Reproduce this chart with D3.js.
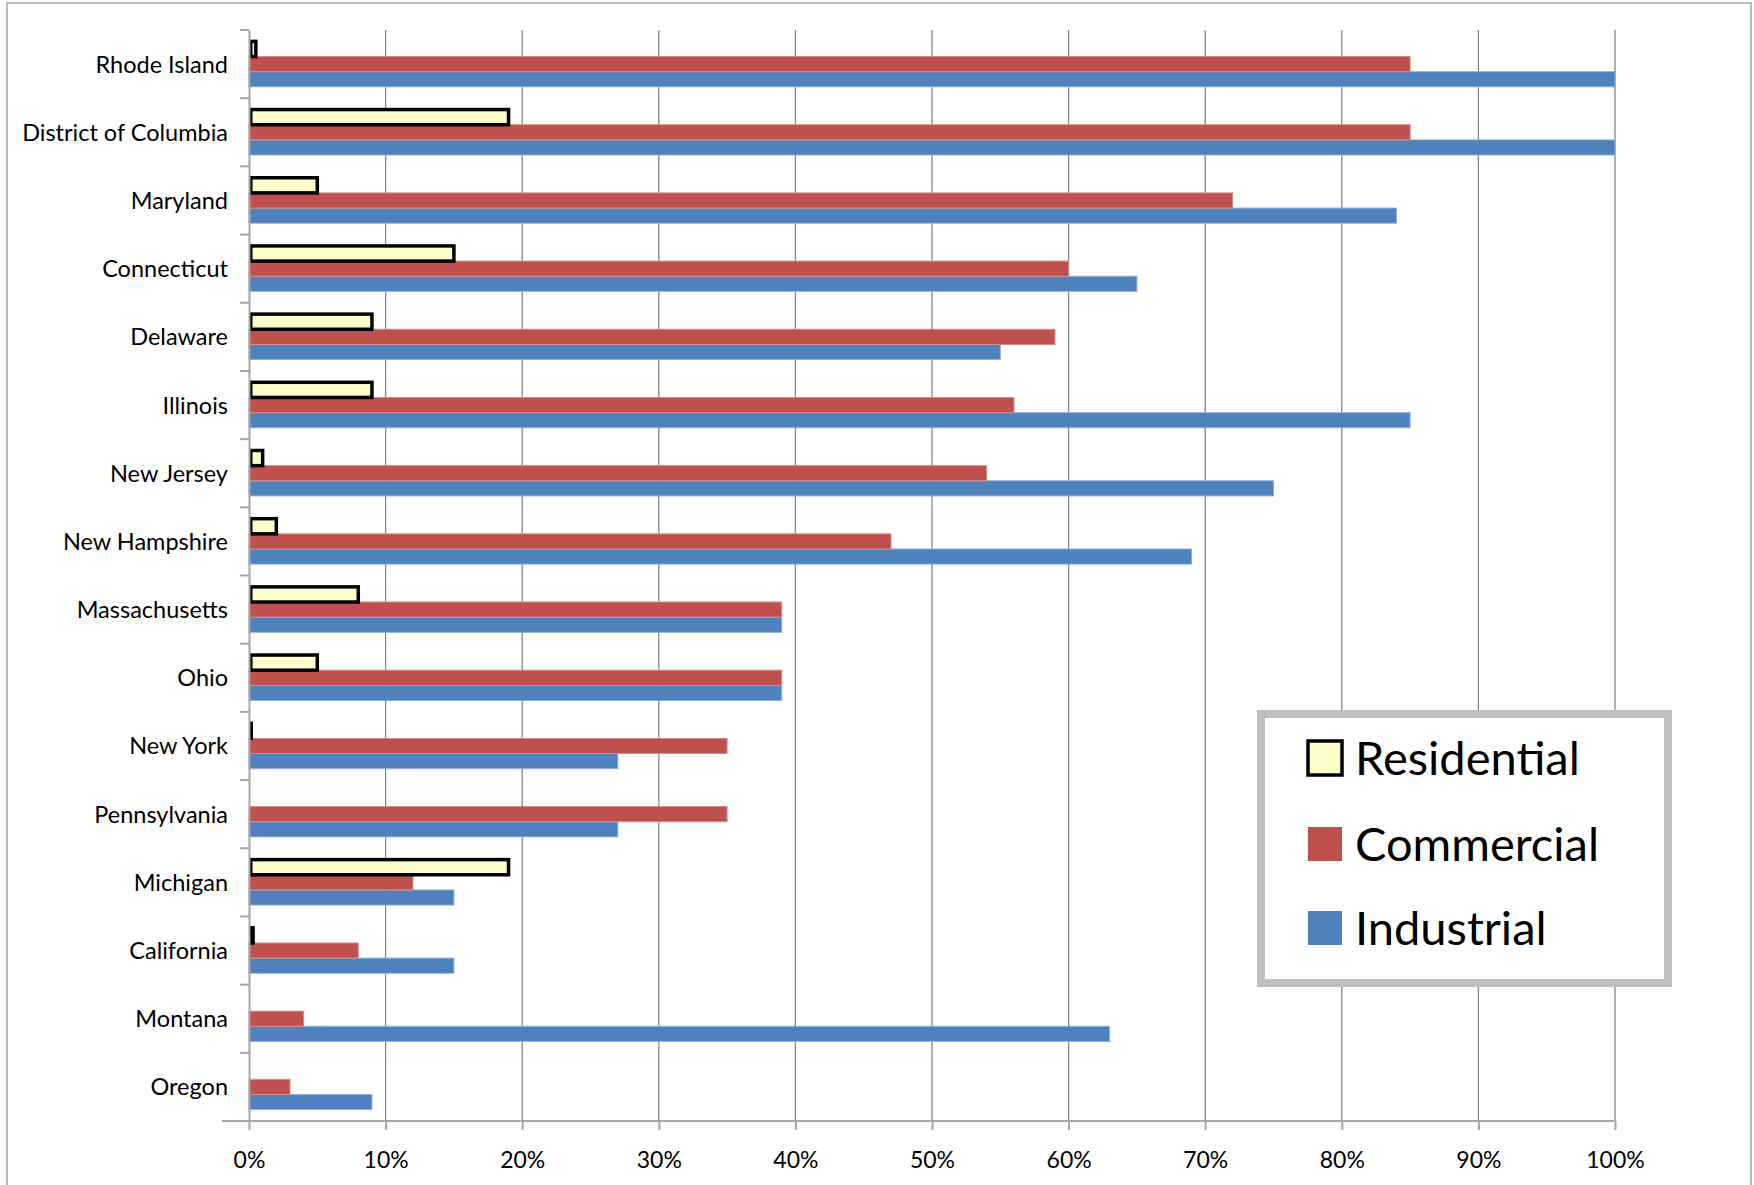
<!DOCTYPE html>
<html>
<head>
<meta charset="utf-8">
<script src="https://cdn.jsdelivr.net/npm/d3@7"></script>
<style>
  html, body { margin: 0; padding: 0; background: #fff; }
  svg { display: block; }
  text { font-family: Lato, "Open Sans", sans-serif; fill: #000; }
</style>
</head>
<body>
<svg id="chart" width="1754" height="1185"></svg>
<script>
// States, listed top to bottom
const states = [
  "Rhode Island", "District of Columbia", "Maryland", "Connecticut",
  "Delaware", "Illinois", "New Jersey", "New Hampshire", "Massachusetts",
  "Ohio", "New York", "Pennsylvania", "Michigan", "California",
  "Montana", "Oregon"
];

// Share (%) for each customer class, same order as states
const residential = [0.5, 19, 5, 15, 9, 9, 1, 2, 8, 5, 0.1, 0, 19, 0.3, 0, 0];
const commercial  = [85, 85, 72, 60, 59, 56, 54, 47, 39, 39, 35, 35, 12, 8, 4, 3];
const industrial  = [100, 100, 84, 65, 55, 85, 75, 69, 39, 39, 27, 27, 15, 15, 63, 9];

const seriesNames = ["Residential", "Commercial", "Industrial"];
const xTicks = [0, 10, 20, 30, 40, 50, 60, 70, 80, 90, 100];

const rows = states.map((s, i) => ({
  state: s,
  values: [
    { key: "Residential", v: residential[i] },
    { key: "Commercial",  v: commercial[i] },
    { key: "Industrial",  v: industrial[i] }
  ]
}));

const style = {
  Residential: { fill: "#ffffcc", stroke: "#000", sw: 3.5 },
  Commercial:  { fill: "#c0504d", stroke: "#d88a88", sw: 1 },
  Industrial:  { fill: "#4f81bd", stroke: "#8fb0da", sw: 1 }
};

const svg = d3.select("#chart");

// Chart frame
svg.append("rect")
  .attr("x", 7).attr("y", 3).attr("width", 1744).attr("height", 1192)
  .attr("fill", "#fff").attr("stroke", "#a6a6a6").attr("stroke-width", 1.5);

const plot = { left: 249, right: 1615, top: 30, bottom: 1121 };

const x = d3.scaleLinear().domain([0, 100]).range([plot.left, plot.right]);
const y0 = d3.scaleBand().domain(states).range([plot.top, plot.bottom]).padding(0);
const y1 = d3.scaleBand().domain(seriesNames).range([0, y0.bandwidth()])
  .paddingInner(0).paddingOuter(0.75);

// Vertical gridlines
svg.append("g").selectAll("line")
  .data(xTicks.slice(1))
  .join("line")
  .attr("x1", d => x(d)).attr("x2", d => x(d))
  .attr("y1", plot.top).attr("y2", plot.bottom)
  .attr("stroke", "#878787").attr("stroke-width", 1.3);

// Bars: industrial and commercial first, residential outlined on top
const groups = svg.append("g").selectAll("g")
  .data(rows)
  .join("g")
  .attr("transform", d => `translate(0,${y0(d.state)})`);

["Industrial", "Commercial", "Residential"].forEach(key => {
  const inset = key === "Residential" ? style[key].sw / 2 : 0;
  groups.append("rect")
    .datum(d => d.values.find(v => v.key === key))
    .filter(d => d.v > 0)
    .attr("x", x(0) + inset)
    .attr("y", y1(key))
    .attr("width", d => Math.max(0.5, x(d.v) - x(0) - inset))
    .attr("height", y1.bandwidth())
    .attr("fill", style[key].fill)
    .attr("stroke", style[key].stroke)
    .attr("stroke-width", style[key].sw);
});

// Category axis (left)
const yAxis = svg.append("g")
  .attr("transform", `translate(${plot.left},0)`)
  .call(d3.axisLeft(y0).tickSize(0).tickPadding(21));
yAxis.select(".domain").attr("stroke", "#a6a6a6").attr("stroke-width", 2);
yAxis.selectAll("text").attr("font-size", 23.5).attr("dy", "0.36em");

// Tick marks between categories
const bounds = states.map(s => y0(s)).concat([plot.bottom]);
svg.append("g").selectAll("line")
  .data(bounds)
  .join("line")
  .attr("x1", plot.left - 9).attr("x2", plot.left)
  .attr("y1", d => d).attr("y2", d => d)
  .attr("stroke", "#a6a6a6").attr("stroke-width", 2);

// Value axis (bottom)
const xAxis = svg.append("g")
  .attr("transform", `translate(0,${plot.bottom})`)
  .call(d3.axisBottom(x).tickValues(xTicks).tickFormat(d => d + "%")
    .tickSizeInner(9).tickSizeOuter(0).tickPadding(22));
xAxis.select(".domain").attr("stroke", "#a6a6a6").attr("stroke-width", 2)
  .attr("d", `M${plot.left - 27},0H${plot.right}`);
xAxis.selectAll(".tick line").attr("stroke", "#a6a6a6").attr("stroke-width", 2);
xAxis.selectAll("text").attr("font-size", 23);

// Legend
const legend = svg.append("g");
legend.append("rect")
  .attr("x", 1261).attr("y", 714).attr("width", 407).attr("height", 269)
  .attr("fill", "#fff").attr("stroke", "#bfbfbf").attr("stroke-width", 8);

const legendRows = [741, 827, 911];
seriesNames.forEach((name, i) => {
  const s = style[name];
  legend.append("rect")
    .attr("x", 1308).attr("y", legendRows[i])
    .attr("width", 34).attr("height", 34)
    .attr("fill", s.fill)
    .attr("stroke", name === "Residential" ? "#000" : "none")
    .attr("stroke-width", 3.5);
  legend.append("text")
    .attr("x", 1355).attr("y", legendRows[i] + 34)
    .attr("font-size", 47)
    .text(name);
});
</script>
</body>
</html>
